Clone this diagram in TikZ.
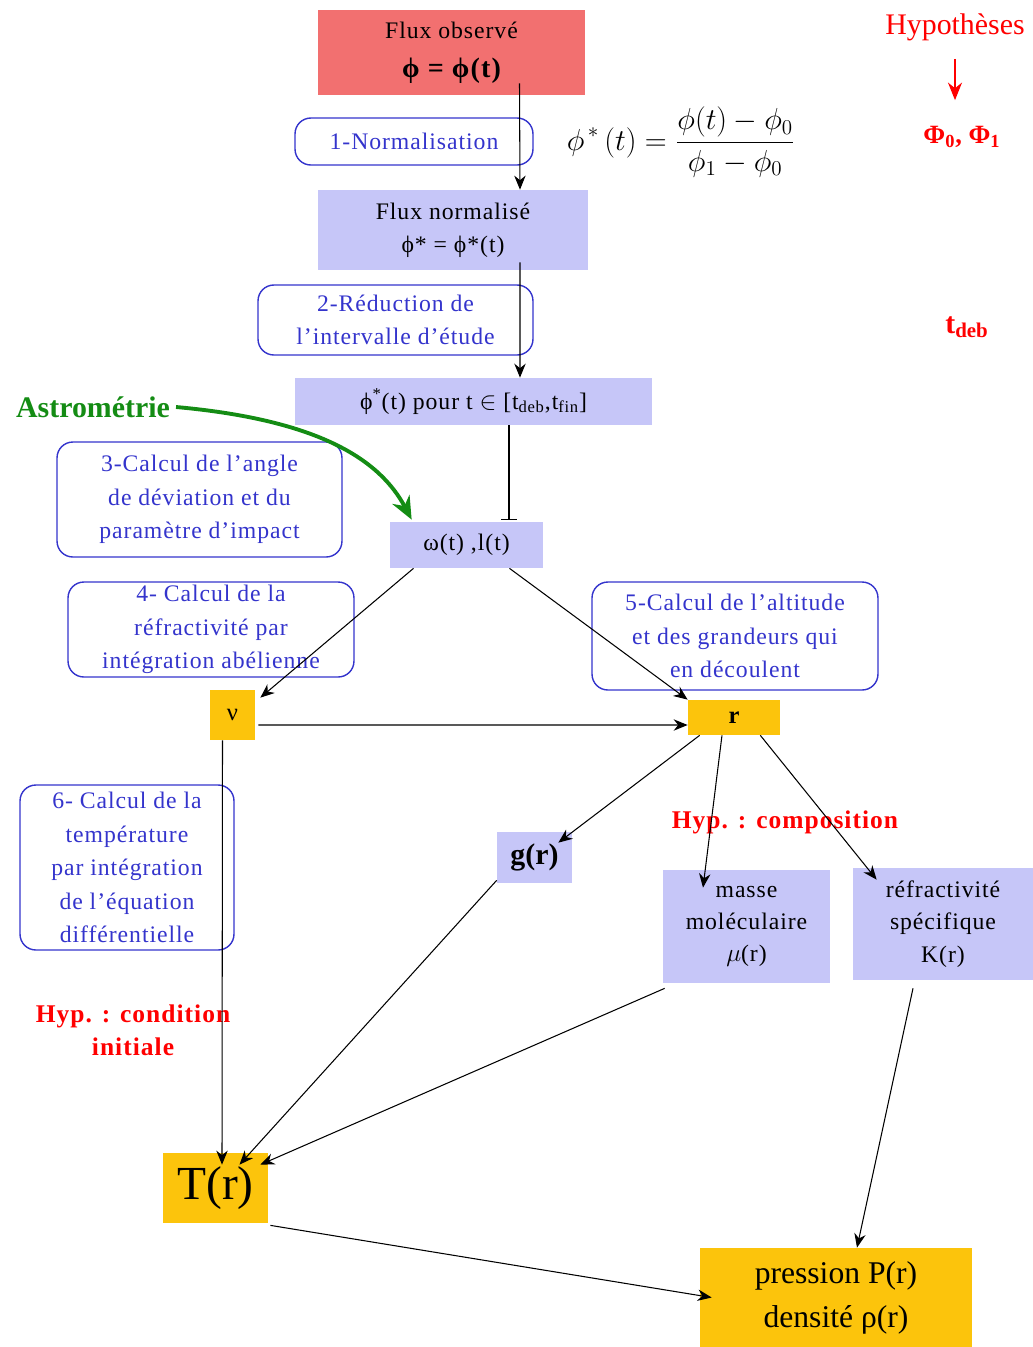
\documentclass[tikz,border=0pt]{standalone}
\usepackage{fontspec}
\setmainfont{Liberation Serif}
\usetikzlibrary{calc,arrows.meta}

\definecolor{obsred}{RGB}{242,112,112}
\definecolor{lavbl}{RGB}{198,198,248}
\definecolor{goldor}{RGB}{252,196,12}
\definecolor{stepblue}{RGB}{52,52,204}
\definecolor{astrogreen}{RGB}{20,140,20}
\newcommand\lsp{\addfontfeatures{LetterSpace=4}}

\begin{document}
\begin{tikzpicture}[x=0.02cm,y=-0.02cm,>={Stealth[length=8pt,width=6.5pt]},
  obsbox/.style={fill=obsred,inner sep=0pt,align=center,font=\fontsize{13.5}{19}\selectfont\lsp},
  lavbox/.style={fill=lavbl,inner sep=0pt,align=center,font=\fontsize{13.5}{19}\selectfont\lsp},
  goldbox/.style={fill=goldor,inner sep=0pt,align=center,font=\fontsize{14}{19}\selectfont},
  stepnote/.style={draw=stepblue,line width=0.8pt,rounded corners=9pt,text=stepblue,inner sep=0pt,align=center,font=\fontsize{13.5}{19}\selectfont\lsp},
  hypnote/.style={text=red,align=center,font=\fontsize{14.5}{19}\selectfont\bfseries\lsp},
  flow/.style={->,line width=0.6pt}]
\useasboundingbox (0,0) rectangle (1033,1347);

% boxes of the chain
\node[obsbox,minimum width=5.34cm,minimum height=1.7cm] (obs) at (451.5,52.5) {Flux observé\\[3pt]{\fontsize{16}{18}\selectfont\bfseries ϕ = ϕ(t)}};
\node[stepnote,minimum width=4.76cm,minimum height=0.94cm] (norm) at (414,141.5) {1-Normalisation};
\node (phistar) at (681,142) {\fontsize{17.5}{20}\selectfont$\displaystyle \phi^{\,*}\,(t)=\frac{\phi(t)-\phi_0}{\phi_1-\phi_0}$};
\node[lavbox,minimum width=5.4cm,minimum height=1.6cm] (fluxn) at (453,230) {Flux normalisé\\ ϕ* = ϕ*(t)};
\node[stepnote,minimum width=5.5cm,minimum height=1.4cm] (reduc) at (395.5,320) {2-Réduction de\\ l’intervalle d’étude};
\node[lavbox,minimum width=7.14cm,minimum height=0.94cm] (fluxt) at (473.5,401.5) {ϕ\textsuperscript{*}(t) pour t $\in$ [t\textsubscript{deb},t\textsubscript{fin}]};
\node[stepnote,minimum width=5.7cm,minimum height=2.3cm] (angle) at (199.5,499.5) {3-Calcul de l’angle\\ de déviation et du\\ paramètre d’impact};
\node[lavbox,minimum width=3.06cm,minimum height=0.92cm] (omega) at (466.5,545) {ω(t) ,l(t)};
\node[stepnote,minimum width=5.72cm,minimum height=1.9cm] (abel) at (211,629.5) {4- Calcul de la\\ réfractivité par\\ intégration abélienne};
\node[stepnote,minimum width=5.72cm,minimum height=2.16cm] (alti) at (735,636) {5-Calcul de l’altitude\\ et des grandeurs qui\\ en découlent};
\node[goldbox,minimum width=0.9cm,minimum height=1cm] (nu) at (232.5,715) {ν};
\node[goldbox,minimum width=1.84cm,minimum height=0.7cm] (rr) at (734,717.5) {\bfseries r};
\node[stepnote,minimum width=4.28cm,minimum height=3.3cm] (temp) at (127,867.5) {6- Calcul de la\\ température\\ par intégration\\ de l’équation\\ différentielle};
\node[lavbox,minimum width=1.5cm,minimum height=1.02cm,font=\fontsize{17}{19}\selectfont\bfseries] (gr) at (534.5,857.5) {g(r)};
\node[lavbox,minimum width=3.34cm,minimum height=2.26cm,font=\fontsize{13.5}{18.4}\selectfont\lsp] (masse) at (746.5,926.5) {masse\\ moléculaire\\ $\mu$(r)};
\node[lavbox,minimum width=3.6cm,minimum height=2.24cm,font=\fontsize{13.5}{18.4}\selectfont\lsp] (refr) at (943,924) {réfractivité\\ spécifique\\ K(r)};
\node[goldbox,minimum width=2.1cm,minimum height=1.4cm,font=\fontsize{27}{29}\selectfont] (Tr) at (215.5,1188) {T(r)};
\node[goldbox,minimum width=5.44cm,minimum height=1.98cm,font=\fontsize{18}{25}\selectfont] (pres) at (836,1297.5) {pression P(r)\\ densité ρ(r)};

% hypotheses
\node[hypnote] (hcomp) at (785,822) {Hyp. : composition};
\node[hypnote] (hcond) at (133,1030) {Hyp. : condition\\ initiale};
\node[text=red,font=\fontsize{17}{19}\selectfont] (hyp) at (955,27) {Hypothèses};
\node[text=red,font=\fontsize{15}{17}\selectfont\bfseries] (phis) at (962,137) {Φ\textsubscript{0}, Φ\textsubscript{1}};
\node[text=red,font=\fontsize{17}{19}\selectfont\bfseries] (tdeb) at (967,327) {t\textsubscript{deb}};
\node[text=astrogreen,font=\fontsize{17}{19}\selectfont\bfseries] (astro) at (93,407) {Astrométrie};

% connectors
\draw[flow] ($(obs.south)+(68,-12)$) -- ($(fluxn.north)+(67,0)$);
\draw[flow] ($(fluxn.south)+(67,-8)$) -- ($(fluxt.north)+(46.5,0)$);
\draw[-{Bar[width=9pt]},line width=0.6pt] ($(fluxt.south)+(35.5,0)$) -- ($(omega.north)+(42.5,-2)$);
\draw[flow] ($(omega.south)+(-53,0)$) -- ($(nu.north east)+(5,8)$);
\draw[flow] ($(omega.south)+(43,0)$) -- (rr.north west);
\draw[flow] ($(nu.east)+(3,10)$) -- ($(rr.west)+(0,7.5)$);
\draw[flow] ($(nu.south)+(-10,0)$) -- ($(Tr.north)+(6.5,12)$);
\draw[flow] ($(rr.south west)+(12,0)$) -- ($(gr.north east)+(-14,11)$);
\draw[flow] ($(rr.south)+(-12,0)$) -- ($(masse.north)+(-43.5,18)$);
\draw[flow] ($(rr.south east)+(-20,0)$) -- ($(refr.north west)+(24,12)$);
\draw[flow] ($(gr.south west)+(0,-3)$) -- ($(Tr.north)+(24,12)$);
\draw[flow] ($(masse.south west)+(2,5)$) -- ($(Tr.north east)+(-8,12)$);
\draw[flow] ($(refr.south)+(-30,8)$) -- ($(pres.north)+(21,0)$);
\draw[flow] ($(Tr.south east)+(2,2)$) -- ($(pres.west)+(12,0)$);
\draw[-{Stealth[length=10pt,width=8pt]},red,line width=0.8pt] ($(hyp.south)+(0,12)$) -- ($(phis.north)+(-7,-20)$);
\draw[-{Stealth[length=13pt,width=11pt]},astrogreen,line width=2.2pt] (astro.east) .. controls (320,420) and (380,460) .. ($(omega.north west)+(22,-2)$);
\end{tikzpicture}
\end{document}
